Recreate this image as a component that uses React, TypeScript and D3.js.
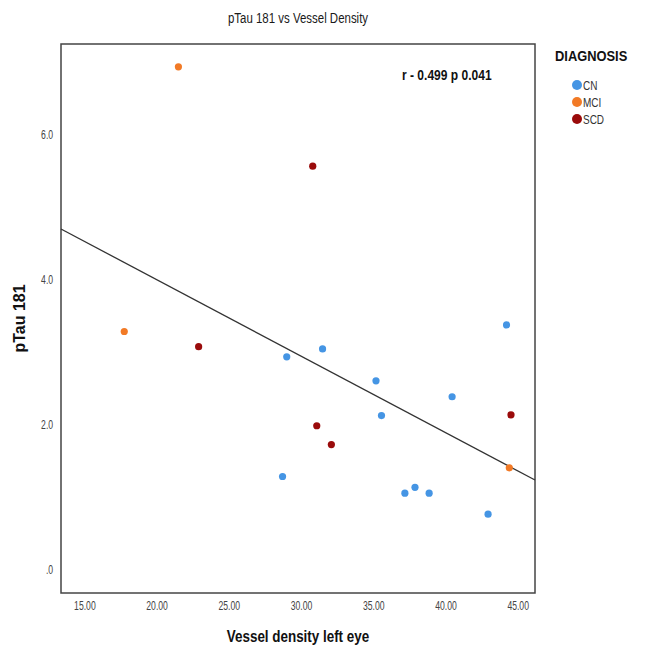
import React, { useEffect, useRef } from 'react';
import * as d3 from 'd3';

// Readings
const groups = ['CN', 'MCI', 'SCD'];
const groupColors = ['#4595e4', '#f27a26', '#9a0b0b'];

const cnX = [28.72, 29.01, 31.49, 35.19, 35.57, 37.19, 37.89, 38.87, 40.46, 42.95, 44.23];
const cnY = [1.29, 2.94, 3.05, 2.61, 2.13, 1.06, 1.14, 1.06, 2.39, 0.77, 3.38];
const mciX = [44.42, 17.76, 21.51];
const mciY = [1.41, 3.29, 6.94];
const scdX = [31.09, 32.10, 44.54, 22.91, 30.81];
const scdY = [1.99, 1.73, 2.14, 3.08, 5.57];

const xTicks = [15, 20, 25, 30, 35, 40, 45];
const yTicks = [0, 2, 4, 6];

const titleText = 'pTau 181 vs Vessel Density';
const xTitle = 'Vessel density left eye';
const yTitle = 'pTau 181';
const statText = 'r - 0.499 p 0.041';

const font = '"Liberation Sans", Arial, sans-serif';

// text squeezed horizontally to mimic the condensed SPSS font
const narrowText = (parent, x, y, text, size, weight, fill, sx, anchor = 'start') => {
    parent.append('text')
        .attr('transform', `translate(${x}, ${y}) scale(${sx}, 1)`)
        .attr('text-anchor', anchor)
        .style('font-family', font)
        .style('font-size', `${size}px`)
        .style('font-weight', weight)
        .style('fill', fill)
        .text(text);
};

const App = () => {
    const svgRef = useRef<SVGSVGElement | null>(null);

    useEffect(() => {
        const config = {
            width: 648,
            height: 661,
            margin: { top: 44, right: 113, bottom: 68, left: 61 }
        };
        const innerWidth = config.width - config.margin.left - config.margin.right;
        const innerHeight = config.height - config.margin.top - config.margin.bottom;

        const svg = d3.select(svgRef.current);
        svg.selectAll('*').remove();
        svg.attr('width', config.width).attr('height', config.height);

        const points = [
            ...cnX.map((x, i) => ({ x, y: cnY[i], g: 'CN' })),
            ...mciX.map((x, i) => ({ x, y: mciY[i], g: 'MCI' })),
            ...scdX.map((x, i) => ({ x, y: scdY[i], g: 'SCD' }))
        ];

        const xScale = d3.scaleLinear().domain([13.38, 46.2]).range([0, innerWidth]);
        const yScale = d3.scaleLinear().domain([-0.317, 7.255]).range([innerHeight, 0]);
        const color = d3.scaleOrdinal<string, string>().domain(groups).range(groupColors);

        // Title
        narrowText(svg, config.margin.left + innerWidth / 2, 23, titleText, 15.5, 'normal', '#1a1a1a', 0.74, 'middle');

        const chart = svg.append('g')
            .attr('transform', `translate(${config.margin.left}, ${config.margin.top})`);

        // Axes (labels only, no tick marks)
        const xAxis = chart.append('g')
            .attr('transform', `translate(0, ${innerHeight})`)
            .call(d3.axisBottom(xScale).tickValues(xTicks).tickSize(0).tickPadding(8)
                .tickFormat(d => d3.format('.2f')(d as number)));
        const yAxis = chart.append('g')
            .call(d3.axisLeft(yScale).tickValues(yTicks).tickSize(0).tickPadding(11)
                .tickFormat(d => (d === 0 ? '.0' : d3.format('.1f')(d as number))));
        [xAxis, yAxis].forEach(ax => {
            ax.select('.domain').remove();
            ax.selectAll('text')
                .attr('transform', 'scale(0.72, 1)')
                .style('font-family', font)
                .style('font-size', '12px')
                .style('fill', '#444');
        });

        // Frame
        chart.append('rect')
            .attr('width', innerWidth)
            .attr('height', innerHeight)
            .attr('fill', 'none')
            .attr('stroke', '#444')
            .attr('stroke-width', 1.5);

        // Least-squares fit line
        const mx = d3.mean(points, p => p.x) as number;
        const my = d3.mean(points, p => p.y) as number;
        const sxy = d3.sum(points, p => (p.x - mx) * (p.y - my));
        const sxx = d3.sum(points, p => (p.x - mx) * (p.x - mx));
        const slope = sxy / sxx;
        const intercept = my - slope * mx;
        const [x0, x1] = xScale.domain();
        const line = d3.line<number>().x(d => xScale(d)).y(d => yScale(intercept + slope * d));
        chart.append('path')
            .attr('d', line([x0, x1]))
            .attr('fill', 'none')
            .attr('stroke', '#333')
            .attr('stroke-width', 1.3);

        // Points
        chart.selectAll('circle.pt')
            .data(points)
            .enter()
            .append('circle')
            .attr('class', 'pt')
            .attr('cx', d => xScale(d.x))
            .attr('cy', d => yScale(d.y))
            .attr('r', 3.6)
            .attr('fill', d => color(d.g));

        // Correlation note
        narrowText(chart, 341, 36, statText, 14, 'bold', '#111', 0.86);

        // Axis titles
        narrowText(svg, config.margin.left + innerWidth / 2, 642, xTitle, 17, 'bold', '#111', 0.79, 'middle');
        svg.append('text')
            .attr('transform', `translate(25, ${config.margin.top + innerHeight / 2}) rotate(-90)`)
            .attr('text-anchor', 'middle')
            .style('font-family', font)
            .style('font-size', '16px')
            .style('font-weight', 'bold')
            .style('fill', '#111')
            .text(yTitle);

        // Legend
        const legend = svg.append('g').attr('transform', 'translate(555, 0)');
        narrowText(legend, 0, 61, 'DIAGNOSIS', 15, 'bold', '#111', 0.86);
        groups.forEach((g, i) => {
            const cy = 85 + i * 17;
            legend.append('circle')
                .attr('cx', 22)
                .attr('cy', cy)
                .attr('r', 5)
                .attr('fill', color(g));
            narrowText(legend, 28, cy + 4.5, g, 12.5, 'normal', '#333', 0.8);
        });
    }, []);

    return (
        <div style={{ position: 'absolute', left: 0, top: 0, background: '#fff' }}>
            <svg ref={svgRef} style={{ display: 'block' }}></svg>
        </div>
    );
};

export default App;
